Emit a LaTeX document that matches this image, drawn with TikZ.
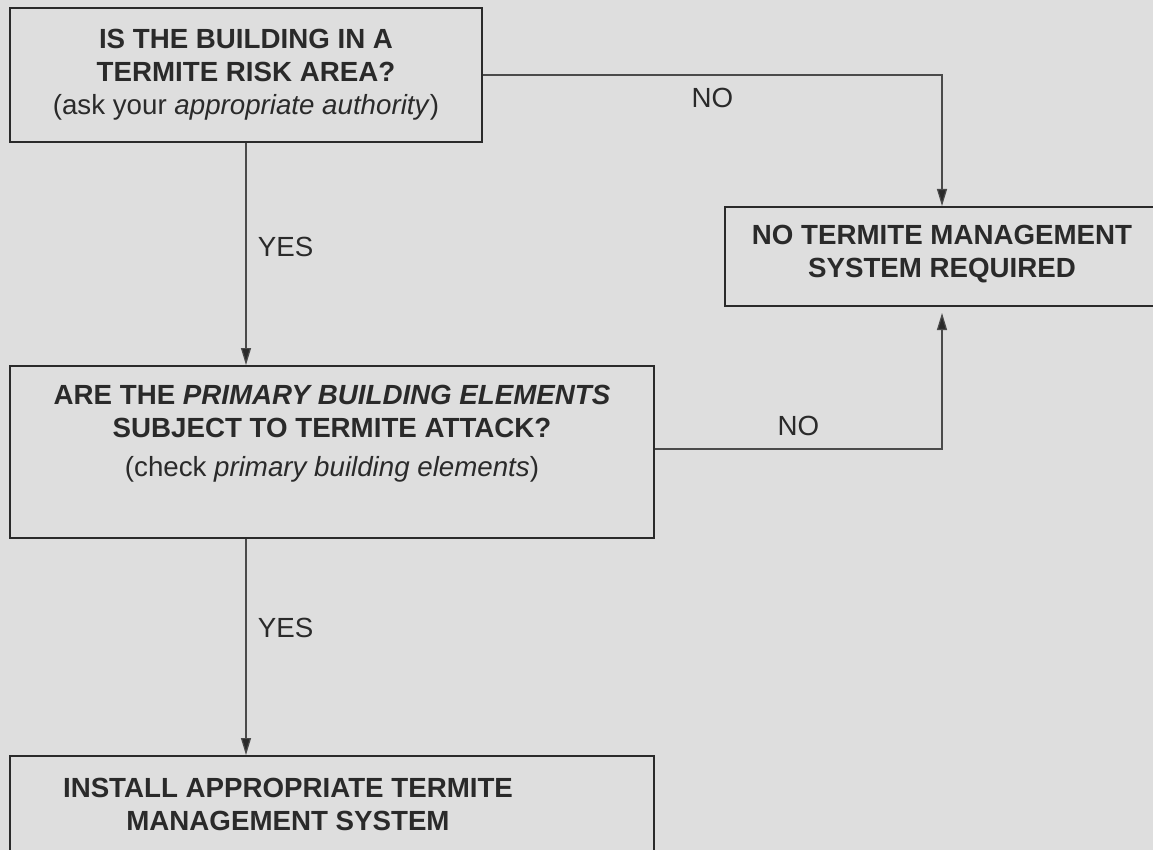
\documentclass[tikz,border=0pt]{standalone}
\usepackage{fontspec}
\setmainfont{Liberation Sans}
\usetikzlibrary{positioning}
\usetikzlibrary{calc}
\usetikzlibrary{arrows.meta}

\definecolor{fundo}{HTML}{DEDEDE}
\definecolor{linha}{HTML}{2A2A2A}
\definecolor{seta}{HTML}{4A4A4A}

\tikzset{
    caixa/.style={draw=linha, line width=2pt, rectangle},
    texto/.style={align=center, text=linha, font=\bfseries\fontsize{27.7}{33}\selectfont},
    resposta/.style={text=linha, font=\fontsize{27.7}{33}\selectfont},
    fluxo/.style={draw=seta, line width=1.2pt, -{Triangle[length=17pt,width=10pt,fill=linha]}}
}

\begin{document}
\begin{tikzpicture}[x=1pt, y=-1pt]

        % Fundo
        \useasboundingbox (0,0) rectangle (1153,850);
        \fill[fundo] (0,0) rectangle (1153,850);
        \clip (0,0) rectangle (1153,850);

        % Definindo caixas
        \foreach \name/\pos/\w/\h in {area/{(246,75)}/472/134, primary/{(332,452)}/644/172,
                                      none/{(942,256.5)}/434/99, install/{(332,804)}/644/96}
            \node[caixa, minimum width=\w pt, minimum height=\h pt] (\name) at \pos {};

        % Textos das caixas
        \node[texto] (areatext) at (246,75) {IS THE BUILDING IN A\\TERMITE RISK AREA?\\{\mdseries(ask your \textit{appropriate authority})}};
        \node[texto] (primarytext) at (332,434) {ARE THE \textit{PRIMARY BUILDING ELEMENTS}\\SUBJECT TO TERMITE ATTACK?\\[6pt]{\mdseries(check \textit{primary building elements})}};
        \node[texto] (nonetext) at (942,254) {NO TERMITE MANAGEMENT\\SYSTEM REQUIRED};
        \node[texto] (installtext) at (288,804) {INSTALL APPROPRIATE TERMITE\\MANAGEMENT SYSTEM};

        % Definindo setas
        \draw[fluxo] (area.south) -- node[resposta, pos=0.47, anchor=west, xshift=8pt] {YES} (area.south |- primary.north);
        \draw[fluxo] (area.east) -| node[resposta, pos=0.25, below=9pt] {NO} (none.north);
        \draw[fluxo, shorten >=6pt] ([yshift=3pt]primary.east) -| node[resposta, pos=0.25, above=9pt] {NO} (none.south);
        \draw[fluxo] (area.south |- primary.south) -- node[resposta, pos=0.41, anchor=west, xshift=8pt] {YES} (area.south |- install.north);

    \end{tikzpicture}
\end{document}
